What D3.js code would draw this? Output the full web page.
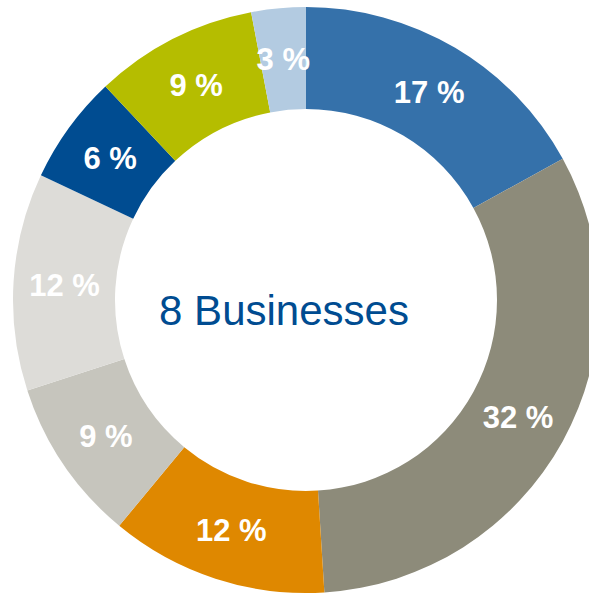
<!DOCTYPE html>
<html>
<head>
<meta charset="utf-8">
<script src="https://cdn.jsdelivr.net/npm/d3@7/dist/d3.min.js"></script>
<style>
  html, body { margin: 0; padding: 0; background: #ffffff; }
  svg { display: block; }
</style>
</head>
<body>
<svg id="chart" width="589" height="594"></svg>
<script>
// Share of each business, clockwise from 12 o'clock
const segments = ["A", "B", "C", "D", "E", "F", "G", "H"];
const shares = [17, 32, 12, 9, 12, 6, 9, 3];
const colors = ["#3571aa", "#8d8b7a", "#df8800", "#c6c5bd", "#dddcd8", "#004c91", "#b5bd00", "#b3cbe1"];
const centerLabel = "8 Businesses";

const svg = d3.select("#chart");
const cx = 306, cy = 300;
const outerR = 293, innerR = 191;

const g = svg.append("g").attr("transform", `translate(${cx},${cy})`);

const data = segments.map((s, i) => ({ name: s, value: shares[i], color: colors[i] }));

const pie = d3.pie().value(d => d.value).sort(null);
const arc = d3.arc().innerRadius(innerR).outerRadius(outerR);
const arcs = pie(data);

g.selectAll("path.slice")
  .data(arcs)
  .join("path")
  .attr("class", "slice")
  .attr("d", arc)
  .attr("fill", d => d.data.color);

g.selectAll("text.pct")
  .data(arcs)
  .join("text")
  .attr("class", "pct")
  .attr("transform", d => `translate(${arc.centroid(d)})`)
  .attr("text-anchor", "middle")
  .attr("dy", "0.36em")
  .attr("font-family", "Liberation Sans, Arial, sans-serif")
  .attr("font-weight", "bold")
  .attr("font-size", 31)
  .attr("fill", "#ffffff")
  .text(d => `${d.data.value} %`);

svg.append("text")
  .attr("x", 284)
  .attr("y", 325)
  .attr("text-anchor", "middle")
  .attr("font-family", "Liberation Sans, Arial, sans-serif")
  .attr("font-size", 42)
  .attr("fill", "#004c91")
  .text(centerLabel);
</script>
</body>
</html>
